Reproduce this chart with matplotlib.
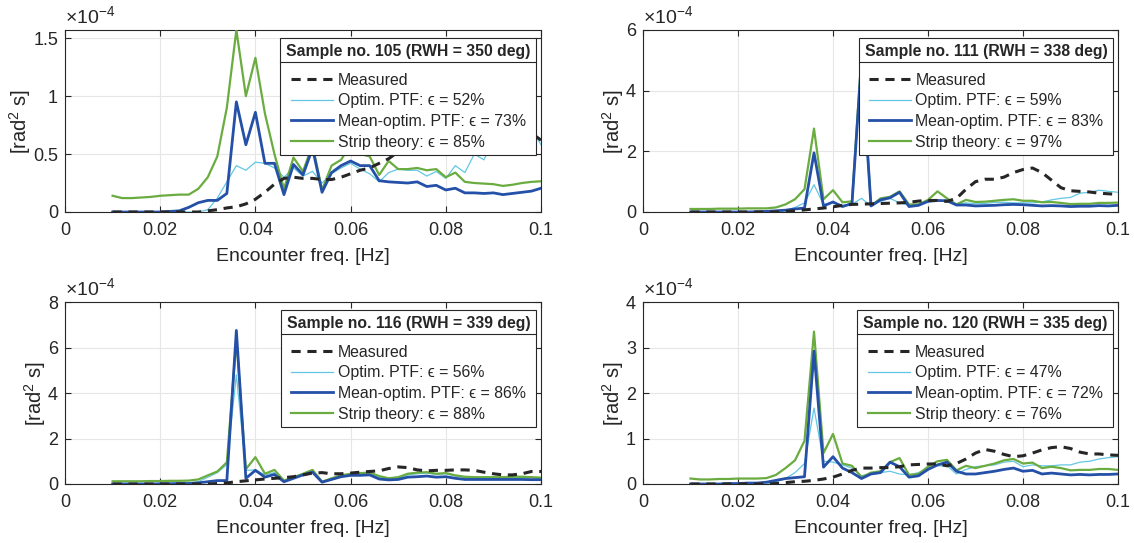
import numpy as np
import matplotlib
matplotlib.use("Agg")
import matplotlib.pyplot as plt
from matplotlib.lines import Line2D

plt.rcParams['font.family'] = ['Liberation Sans', 'DejaVu Sans']
plt.rcParams['mathtext.fontset'] = 'custom'
plt.rcParams['mathtext.rm'] = 'Liberation Sans'

# encounter frequency grid [Hz]
freq = np.round(np.arange(0.010, 0.1001, 0.002), 3)

# ---- sample 105 (x1e-4 rad^2 s)
meas_105 = [0, 0, 0, 0, 0, 0, 0, 0, 0, 0, 0.01, 0.02, 0.035, 0.045, 0.07, 0.11, 0.17, 0.24,
            0.29, 0.30, 0.29, 0.29, 0.28, 0.28, 0.30, 0.33, 0.36, 0.38, 0.42, 0.46, 0.52,
            0.58, 0.62, 0.65, 0.68, 0.70, 0.72, 0.74, 0.75, 0.76, 0.76, 0.76, 0.75, 0.73,
            0.68, 0.62]
opt_105 = [0, 0, 0, 0, 0, 0, 0, 0, 0, 0, 0.02, 0.12, 0.26, 0.40, 0.36, 0.43, 0.42, 0.38,
           0.30, 0.38, 0.31, 0.35, 0.25, 0.33, 0.38, 0.42, 0.37, 0.33, 0.26, 0.34, 0.37,
           0.36, 0.36, 0.31, 0.35, 0.29, 0.40, 0.34, 0.50, 0.45, 0.62, 0.60, 0.64, 0.66,
           0.72, 0.58]
mean_105 = [0, 0, 0, 0, 0, 0, 0.005, 0.01, 0.04, 0.08, 0.10, 0.10, 0.16, 0.95, 0.58, 0.86,
            0.42, 0.42, 0.15, 0.41, 0.32, 0.55, 0.17, 0.34, 0.40, 0.44, 0.40, 0.40, 0.27,
            0.26, 0.255, 0.25, 0.26, 0.22, 0.23, 0.19, 0.205, 0.165, 0.165, 0.16, 0.165,
            0.15, 0.16, 0.17, 0.18, 0.205]
strip_105 = [0.14, 0.12, 0.12, 0.125, 0.13, 0.14, 0.145, 0.15, 0.15, 0.20, 0.30, 0.48, 0.90,
             1.57, 1.00, 1.33, 0.85, 0.50, 0.20, 0.47, 0.35, 0.58, 0.19, 0.40, 0.45, 0.58,
             0.50, 0.48, 0.32, 0.44, 0.37, 0.37, 0.38, 0.36, 0.37, 0.30, 0.34, 0.26, 0.25,
             0.245, 0.24, 0.225, 0.235, 0.25, 0.26, 0.265]

# ---- sample 111
meas_111 = [0, 0, 0, 0, 0, 0, 0, 0, 0, 0, 0.02, 0.04, 0.07, 0.10, 0.13, 0.17, 0.22, 0.25,
            0.26, 0.27, 0.28, 0.29, 0.30, 0.32, 0.36, 0.38, 0.38, 0.35, 0.45, 0.75, 1.00,
            1.08, 1.08, 1.15, 1.30, 1.40, 1.45, 1.30, 1.05, 0.80, 0.70, 0.68, 0.66, 0.62,
            0.60, 0.58]
opt_111 = [0, 0, 0, 0, 0, 0, 0, 0, 0, 0, 0.05, 0.15, 0.30, 0.90, 0.25, 0.30, 0.22, 0.25,
           0.45, 0.20, 0.35, 0.45, 0.30, 0.22, 0.25, 0.38, 0.38, 0.35, 0.25, 0.30, 0.27,
           0.28, 0.32, 0.32, 0.30, 0.30, 0.30, 0.33, 0.40, 0.45, 0.48, 0.62, 0.65, 0.72,
           0.68, 0.65]
mean_111 = [0, 0, 0, 0, 0, 0, 0, 0.01, 0.02, 0.04, 0.06, 0.10, 0.13, 1.95, 0.20, 0.33, 0.18,
            0.28, 5.0, 0.20, 0.40, 0.47, 0.65, 0.18, 0.22, 0.35, 0.38, 0.37, 0.23, 0.23,
            0.20, 0.21, 0.22, 0.24, 0.25, 0.24, 0.22, 0.20, 0.21, 0.20, 0.18, 0.19, 0.19,
            0.21, 0.20, 0.22]
strip_111 = [0.10, 0.10, 0.10, 0.11, 0.11, 0.11, 0.12, 0.12, 0.12, 0.15, 0.25, 0.42, 0.75,
             2.75, 0.42, 0.72, 0.32, 0.35, 5.2, 0.20, 0.45, 0.50, 0.68, 0.25, 0.25, 0.40,
             0.68, 0.45, 0.25, 0.40, 0.33, 0.34, 0.37, 0.40, 0.42, 0.37, 0.37, 0.32, 0.33,
             0.30, 0.26, 0.27, 0.27, 0.30, 0.30, 0.31]

# ---- sample 116
meas_116 = [0, 0, 0, 0, 0, 0, 0, 0, 0, 0, 0, 0.02, 0.05, 0.10, 0.14, 0.18, 0.22, 0.25, 0.28,
            0.32, 0.40, 0.48, 0.50, 0.45, 0.45, 0.48, 0.52, 0.55, 0.58, 0.68, 0.75, 0.72,
            0.62, 0.58, 0.60, 0.60, 0.62, 0.62, 0.60, 0.52, 0.45, 0.40, 0.40, 0.45, 0.55,
            0.55]
opt_116 = [0, 0, 0, 0.01, 0.01, 0.02, 0.03, 0.04, 0.05, 0.10, 0.30, 0.50, 0.85, 4.8, 0.60,
           0.62, 0.40, 0.50, 0.12, 0.28, 0.42, 0.55, 0.10, 0.22, 0.35, 0.42, 0.45, 0.45,
           0.28, 0.22, 0.25, 0.40, 0.45, 0.48, 0.42, 0.45, 0.35, 0.28, 0.27, 0.26, 0.26,
           0.27, 0.28, 0.28, 0.27, 0.25]
mean_116 = [0, 0, 0, 0, 0, 0.01, 0.01, 0.02, 0.02, 0.05, 0.10, 0.15, 0.15, 6.75, 0.25, 0.60,
            0.30, 0.42, 0.10, 0.25, 0.40, 0.52, 0.08, 0.20, 0.32, 0.38, 0.38, 0.40, 0.22,
            0.18, 0.20, 0.30, 0.32, 0.35, 0.30, 0.32, 0.25, 0.20, 0.20, 0.20, 0.20, 0.20,
            0.20, 0.20, 0.19, 0.19]
strip_116 = [0.12, 0.12, 0.12, 0.12, 0.13, 0.13, 0.14, 0.14, 0.15, 0.20, 0.38, 0.55, 0.95,
             6.35, 0.65, 1.18, 0.45, 0.62, 0.15, 0.30, 0.45, 0.62, 0.10, 0.25, 0.38, 0.45,
             0.48, 0.50, 0.35, 0.25, 0.30, 0.45, 0.50, 0.52, 0.45, 0.48, 0.38, 0.32, 0.30,
             0.30, 0.30, 0.30, 0.32, 0.32, 0.30, 0.28]

# ---- sample 120
meas_120 = [0, 0, 0, 0, 0, 0, 0, 0, 0, 0.01, 0.03, 0.05, 0.06, 0.08, 0.11, 0.15, 0.22, 0.30,
            0.35, 0.35, 0.36, 0.36, 0.38, 0.42, 0.43, 0.44, 0.44, 0.40, 0.45, 0.55, 0.68,
            0.76, 0.72, 0.65, 0.60, 0.62, 0.68, 0.75, 0.80, 0.82, 0.78, 0.70, 0.66, 0.66,
            0.64, 0.63]
opt_120 = [0, 0, 0, 0, 0, 0, 0, 0, 0, 0.05, 0.12, 0.25, 0.45, 1.67, 0.50, 0.48, 0.42, 0.35,
           0.18, 0.22, 0.25, 0.28, 0.22, 0.20, 0.25, 0.35, 0.40, 0.40, 0.22, 0.32, 0.38,
           0.40, 0.42, 0.48, 0.50, 0.38, 0.42, 0.40, 0.40, 0.42, 0.42, 0.48, 0.50, 0.55,
           0.58, 0.60]
mean_120 = [0, 0, 0, 0, 0.01, 0.01, 0.02, 0.02, 0.04, 0.08, 0.12, 0.14, 0.16, 2.92, 0.37,
            0.60, 0.35, 0.25, 0.12, 0.22, 0.25, 0.48, 0.38, 0.15, 0.18, 0.32, 0.42, 0.48,
            0.28, 0.22, 0.22, 0.25, 0.28, 0.32, 0.35, 0.28, 0.30, 0.22, 0.24, 0.22, 0.20,
            0.21, 0.20, 0.21, 0.21, 0.22]
strip_120 = [0.12, 0.10, 0.10, 0.11, 0.11, 0.12, 0.12, 0.12, 0.13, 0.20, 0.35, 0.52, 0.95,
             3.35, 0.68, 1.10, 0.45, 0.40, 0.15, 0.25, 0.28, 0.48, 0.57, 0.20, 0.22, 0.38,
             0.50, 0.53, 0.30, 0.40, 0.35, 0.40, 0.45, 0.52, 0.55, 0.45, 0.47, 0.35, 0.38,
             0.35, 0.30, 0.31, 0.31, 0.33, 0.33, 0.31]

titles = ["Sample no. 105 (RWH = 350 deg)", "Sample no. 111 (RWH = 338 deg)",
          "Sample no. 116 (RWH = 339 deg)", "Sample no. 120 (RWH = 335 deg)"]
eps_opt = [52, 59, 56, 47]
eps_mean = [73, 83, 86, 72]
eps_strip = [85, 97, 88, 76]
ylims = [1.57, 6, 8, 4]
yticks = [[0, 0.5, 1, 1.5], [0, 2, 4, 6], [0, 2, 4, 6, 8], [0, 1, 2, 3, 4]]
yticklabels = [["0", "0.5", "1", "1.5"], None, None, None]

panels = [
    (meas_105, opt_105, mean_105, strip_105),
    (meas_111, opt_111, mean_111, strip_111),
    (meas_116, opt_116, mean_116, strip_116),
    (meas_120, opt_120, mean_120, strip_120),
]

W, H = 1134, 543
fig = plt.figure(figsize=(W / 100, H / 100), dpi=100)

# axes boxes in pixels: left, top, right, bottom
boxes = [(65, 30, 541, 212), (643, 30, 1118, 212),
         (65, 302, 541, 484), (643, 302, 1118, 484)]

c_meas = "#262626"
c_opt = "#63c7e3"
c_mean = "#2450a8"
c_strip = "#6aac3f"
c_txt = "#262626"

axes = []
for i, (l, t, r, b) in enumerate(boxes):
    ax = fig.add_axes([l / W, 1 - b / H, (r - l) / W, (b - t) / H])
    meas, opt, mean, strip = panels[i]
    ax.plot(freq, opt, color=c_opt, lw=0.9,
            label="Optim. PTF: \u03f5 = %d%%" % eps_opt[i], zorder=3)
    ax.plot(freq, strip, color=c_strip, lw=1.6,
            label="Strip theory: \u03f5 = %d%%" % eps_strip[i], zorder=4)
    ax.plot(freq, mean, color=c_mean, lw=2.0,
            label="Mean-optim. PTF: \u03f5 = %d%%" % eps_mean[i], zorder=5)
    ax.plot(freq, meas, color=c_meas, lw=2.2, ls=(0, (3, 2.2)),
            label="Measured", zorder=6)
    ax.set_xlim(0, 0.1)
    ax.set_ylim(0, ylims[i])
    ax.set_xticks([0, 0.02, 0.04, 0.06, 0.08, 0.1])
    ax.set_xticklabels(["0", "0.02", "0.04", "0.06", "0.08", "0.1"])
    ax.set_yticks(yticks[i])
    if yticklabels[i] is not None:
        ax.set_yticklabels(yticklabels[i])
    ax.grid(True, color="#e6e6e6", lw=0.8)
    ax.set_axisbelow(True)
    ax.tick_params(direction="in", top=True, right=True, length=4,
                   labelsize=13, colors=c_txt, width=0.8)
    ax.tick_params(axis="x", pad=7)
    ax.tick_params(axis="y", pad=5)
    for s in ax.spines.values():
        s.set_color(c_txt)
        s.set_linewidth(0.8)
    ax.set_xlabel("Encounter freq. [Hz]", fontsize=14, color=c_txt, labelpad=7)
    ax.set_ylabel(r"[rad$^2$ s]", fontsize=14.5, color=c_txt, labelpad=0)
    ax.text(0.0, 1.008, r"$\times$10$^{-4}$", transform=ax.transAxes,
            fontsize=14, color=c_txt, va="bottom", ha="left")

    handles, labels = ax.get_legend_handles_labels()
    order = [3, 0, 2, 1]
    leg = ax.legend([handles[k] for k in order], [labels[k] for k in order],
                    title=titles[i], loc="upper right",
                    bbox_to_anchor=(0.99, 0.956), fontsize=11.4,
                    title_fontproperties={"weight": "bold", "size": 11.3},
                    frameon=True, fancybox=False, edgecolor=c_txt,
                    framealpha=1, handlelength=2.65, handletextpad=0.3,
                    labelspacing=0.36, borderpad=0.36, borderaxespad=0)
    leg.get_frame().set_linewidth(0.8)
    leg.set_zorder(10)
    leg._legend_box.sep = 10
    for txt in leg.get_texts():
        txt.set_color(c_txt)
    leg.get_title().set_color(c_txt)
    axes.append((ax, leg))

fig.canvas.draw()
renderer = fig.canvas.get_renderer()
for ax, leg in axes:
    fb = leg.get_frame().get_window_extent(renderer)
    tb = leg.get_title().get_window_extent(renderer)
    y = tb.y0 - 3
    inv = fig.transFigure.inverted()
    (x0, y0), (x1, _) = inv.transform([(fb.x0, y), (fb.x1, y)])
    fig.add_artist(Line2D([x0, x1], [y0, y0], transform=fig.transFigure,
                          color=c_txt, lw=0.8, zorder=20))

fig.savefig("out.png", dpi=100)
